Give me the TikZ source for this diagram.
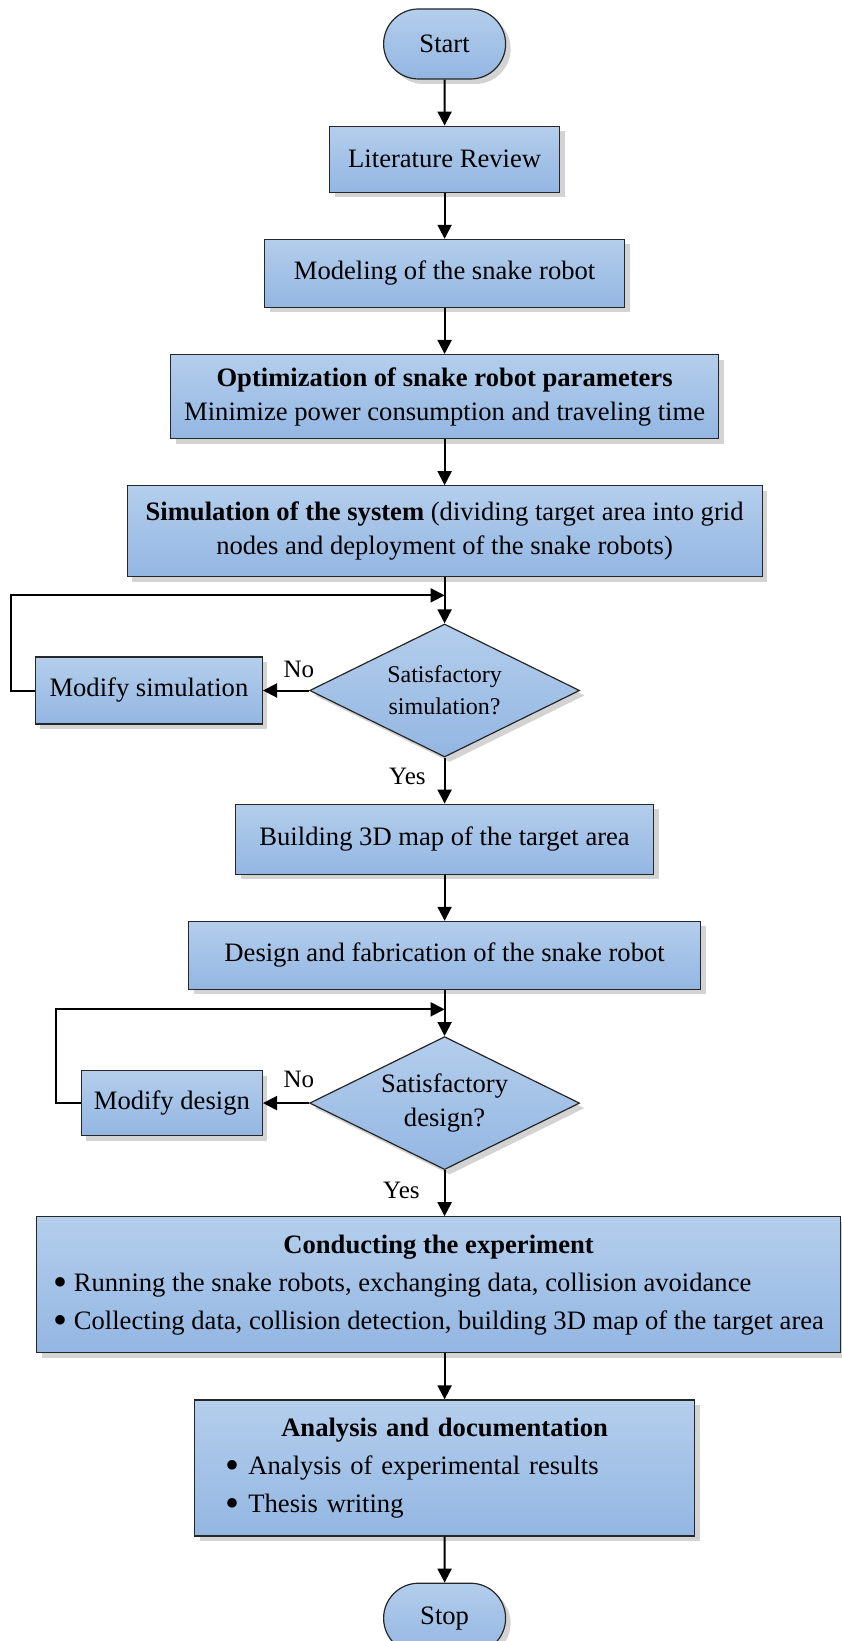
\documentclass[tikz,border=0pt]{standalone}
\usepackage{fontspec}
\usepackage{graphicx}
\setmainfont{Liberation Serif}
\usetikzlibrary{arrows.meta,positioning,shapes.geometric,shapes.misc,shadows,calc}
\definecolor{boxtop}{HTML}{B4CEEC}
\definecolor{boxbot}{HTML}{93B6E2}
\newcommand{\bul}{\raisebox{-0.35ex}{\scalebox{1.5}{\textbullet}}\ }

\begin{document}
\begin{tikzpicture}[
    node distance=23pt,
    base/.style={draw=black!85, line width=0.6pt, top color=boxtop, bottom color=boxbot,
        drop shadow={shadow xshift=2.5pt, shadow yshift=-2.5pt, opacity=0.35},
        align=center, inner sep=3pt, font=\fontsize{13.3}{17}\selectfont},
    term/.style={base, rounded rectangle, minimum width=67pt, minimum height=35pt},
    block/.style={base, rectangle},
    decision/.style={base, diamond, inner sep=0pt, minimum width=135pt, minimum height=66.5pt},
    dectext/.style={align=center, inner sep=0pt, font=\fontsize{13.3}{17}\selectfont},
    arrow/.style={-{Triangle[length=7pt, width=7pt]}, line width=1pt},
    lbl/.style={inner sep=0pt, font=\fontsize{12.5}{15}\selectfont}
]
\useasboundingbox (0,0) rectangle (420.5pt,-820.5pt);

\node[term] (start) at (222.3pt,-22pt) {Start};
\node[block, below=of start, minimum width=115pt, minimum height=33pt] (lit) {Literature Review};
\node[block, below=of lit, minimum width=180pt, minimum height=34pt] (model) {Modeling of the snake robot};
\node[block, below=of model, minimum width=274pt, minimum height=42pt] (opt)
    {\textbf{Optimization of snake robot parameters}\\Minimize power consumption and traveling time};
\node[block, below=of opt, minimum width=317.5pt, minimum height=45.5pt] (sim)
    {\textbf{Simulation of the system} (dividing target area into grid\\nodes and deployment of the snake robots)};
\node[decision, below=of sim,
    label={[dectext, font=\fontsize{12}{16}\selectfont]center:Satisfactory\\simulation?}] (simok) {};
\node[block, left=of simok, minimum width=113.5pt, minimum height=33.5pt] (modsim) {Modify simulation};
\node[block, below=of simok, minimum width=209pt, minimum height=35pt] (map) {Building 3D map of the target area};
\node[block, below=of map, minimum width=256pt, minimum height=34pt] (fab) {Design and fabrication of the snake robot};
\node[decision, below=of fab, label={[dectext]center:Satisfactory\\design?}] (desok) {};
\node[block, left=of desok, minimum width=90.5pt, minimum height=32.5pt] (moddes) {Modify design};
\node[block, below=of desok, xshift=-3pt, minimum width=402pt, minimum height=68pt] (exp)
    {\begin{tabular}{@{}l@{}}
     \multicolumn{1}{c}{\textbf{Conducting the experiment}}\\[2pt]
     \bul Running the snake robots, exchanging data, collision avoidance\\[2pt]
     \bul Collecting data, collision detection, building 3D map of the target area
     \end{tabular}};
\node[block, below=of exp, xshift=3pt, minimum width=250pt, minimum height=68pt,
    inner xsep=15.5pt, text width=219pt, align=left] (doc)
    {\makebox[219pt]{\textbf{Analysis and documentation}}\\[2pt]
     \bul Analysis of experimental results\\[2pt]
     \bul Thesis writing};
\node[term, below=of doc] (stop) {Stop};

\coordinate (simjoin) at ($(sim.south)!0.39!(simok.north)$);
\coordinate (desjoin) at ($(fab.south)!0.42!(desok.north)$);

\draw[arrow] (start) -- (lit);
\draw[arrow] (lit) -- (model);
\draw[arrow] (model) -- (opt);
\draw[arrow] (opt) -- (sim);
\draw[arrow] (sim) -- (simok);
\draw[arrow] (simok) -- node[lbl, pos=0.22, above=6pt] {No} (modsim);
\draw[arrow] (modsim.west) -- ++(-12pt,0) |- (simjoin);
\draw[arrow] (simok) -- node[lbl, pos=0.4, left=9pt] {Yes} (map);
\draw[arrow] (map) -- (fab);
\draw[arrow] (fab) -- (desok);
\draw[arrow] (desok) -- node[lbl, pos=0.22, above=7pt] {No} (moddes);
\draw[arrow] (moddes.west) -- ++(-12.3pt,0) |- (desjoin);
\draw[arrow] (desok) -- node[lbl, pos=0.44, left=12pt] {Yes} (desok.south |- exp.north);
\draw[arrow] (exp.south -| doc.north) -- (doc);
\draw[arrow] (doc) -- (stop);
\end{tikzpicture}
\end{document}
